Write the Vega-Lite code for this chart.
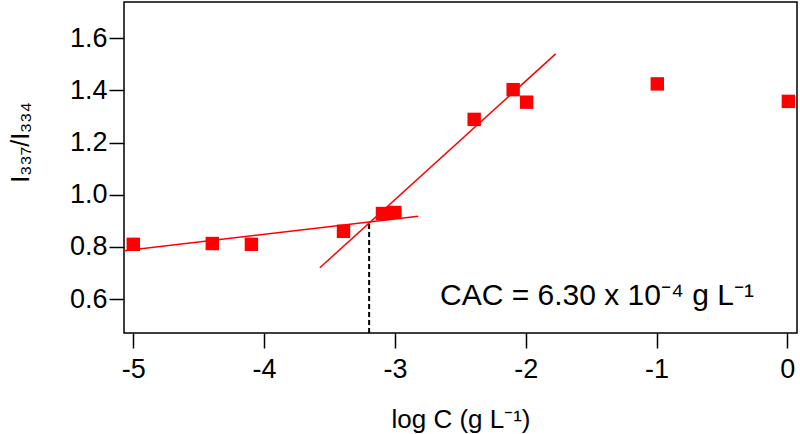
{
  "$schema": "https://vega.github.io/schema/vega-lite/v6.json",
  "width": 673,
  "height": 331,
  "autosize": {"type": "none"},
  "padding": {"left": 124, "top": 2, "right": 3, "bottom": 101},
  "background": "white",
  "config": {
    "view": {"stroke": "#000", "strokeWidth": 1.5},
    "font": "Liberation Sans",
    "axis": {
      "grid": false,
      "domain": false,
      "tickColor": "#000",
      "tickWidth": 1.5,
      "tickSize": 15,
      "labelColor": "#000",
      "labelFont": "Liberation Sans",
      "labelFontSize": 27,
      "titleColor": "#000",
      "titleFont": "Liberation Sans",
      "titleFontWeight": "normal"
    }
  },
  "datasets": {
    "points": [
      {"logC": -5.0, "ratio": 0.81},
      {"logC": -4.396, "ratio": 0.813},
      {"logC": -4.097, "ratio": 0.81},
      {"logC": -3.393, "ratio": 0.86},
      {"logC": -3.095, "ratio": 0.928},
      {"logC": -3.0, "ratio": 0.932},
      {"logC": -2.394, "ratio": 1.289},
      {"logC": -2.096, "ratio": 1.403},
      {"logC": -1.993, "ratio": 1.355},
      {"logC": -0.994, "ratio": 1.425},
      {"logC": 0.008, "ratio": 1.358}
    ],
    "fits": [
      {"fit": "low", "logC": -5.071, "ratio": 0.785},
      {"fit": "low", "logC": -2.822, "ratio": 0.918},
      {"fit": "high", "logC": -3.574, "ratio": 0.72},
      {"fit": "high", "logC": -1.771, "ratio": 1.54}
    ],
    "cac": [
      {"logC": -3.197, "ratio": 0.47},
      {"logC": -3.197, "ratio": 0.894}
    ],
    "label": [
      {"logC": -2.655, "ratio": 0.577, "text": "CAC = 6.30 x 10⁻⁴ g L⁻¹"}
    ]
  },
  "layer": [
    {
      "data": {"name": "cac"},
      "mark": {"type": "line", "color": "#000", "strokeWidth": 2, "strokeDash": [5, 3], "clip": true},
      "encoding": {
        "x": {"field": "logC", "type": "quantitative",
              "scale": {"domain": [-5.071, 0.074], "nice": false, "zero": false},
              "axis": {"values": [-5, -4, -3, -2, -1, 0], "labelExpr": "'' + datum.value", "labelPadding": 8,
                       "title": "log C (g L⁻¹)", "titleFontSize": 26, "titleY": 94, "titleBaseline": "alphabetic"}},
        "y": {"field": "ratio", "type": "quantitative",
              "scale": {"domain": [0.47, 1.739], "nice": false, "zero": false},
              "axis": {"values": [0.6, 0.8, 1.0, 1.2, 1.4, 1.6], "format": ".1f", "labelPadding": 2,
                       "title": "I₃₃₇/I₃₃₄", "titleFontSize": 25, "titleX": -104, "titleY": 140,
                       "titleAngle": -90, "titleAlign": "center", "titleBaseline": "middle"}}
      }
    },
    {
      "data": {"name": "fits"},
      "mark": {"type": "line", "color": "#ff0000", "strokeWidth": 1.5, "clip": true},
      "encoding": {
        "x": {"field": "logC", "type": "quantitative"},
        "y": {"field": "ratio", "type": "quantitative"},
        "detail": {"field": "fit"}
      }
    },
    {
      "data": {"name": "points"},
      "mark": {"type": "point", "shape": "square", "filled": true, "color": "#ff0000", "opacity": 1, "size": 180},
      "encoding": {
        "x": {"field": "logC", "type": "quantitative"},
        "y": {"field": "ratio", "type": "quantitative"}
      }
    },
    {
      "data": {"name": "label"},
      "mark": {"type": "text", "align": "left", "baseline": "alphabetic", "fontSize": 30, "color": "#000", "font": "Liberation Sans"},
      "encoding": {
        "x": {"field": "logC", "type": "quantitative"},
        "y": {"field": "ratio", "type": "quantitative"},
        "text": {"field": "text"}
      }
    }
  ]
}
